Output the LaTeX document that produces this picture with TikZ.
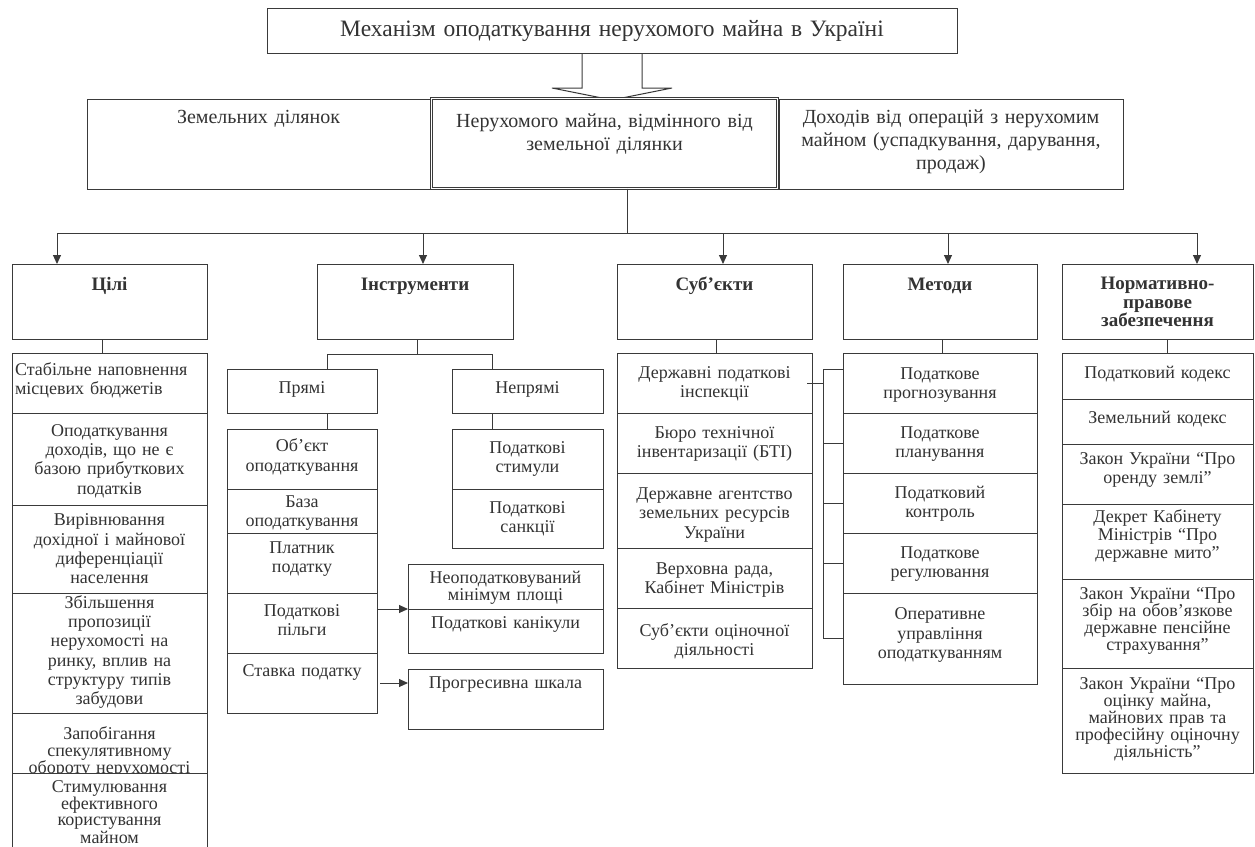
\documentclass[tikz,border=0pt]{standalone}
\usepackage{fontspec}
\setmainfont{Liberation Serif}
\usetikzlibrary{calc,arrows.meta}
\definecolor{ink}{HTML}{333333}
\definecolor{edge}{HTML}{3A3A3A}
\tikzset{
  box/.style={draw=edge, line width=1pt, fill=white, inner sep=0pt, outer sep=0pt},
  txt/.style={inner sep=0pt, align=center, text=ink, font=\fontsize{18}{19.3}\selectfont},
  tight/.style={txt, font=\fontsize{18}{17}\selectfont},
  tighter/.style={txt, font=\fontsize{18}{16}\selectfont},
  hdr/.style={txt, font=\fontsize{19}{18.5}\selectfont\bfseries},
  big/.style={txt, font=\fontsize{20}{23}\selectfont},
  ttl/.style={txt, font=\fontsize{23.5}{26}\selectfont},
  conn/.style={draw=edge, line width=1pt},
  arr/.style={conn, -{Triangle[length=9pt,width=8pt]}},
}
% #1 text style, #2 name, #3 x1, #4 y1, #5 x2, #6 y2, #7 text centre y, #8 text
\newcommand\mkcell[8][txt]{%
  \pgfmathsetmacro\cw{#5-#3}%
  \pgfmathsetmacro\ch{#6-#4}%
  \pgfmathsetmacro\tw{#5-#3-6}%
  \pgfmathsetmacro\cx{(#3+#5)/2}%
  \node[box, anchor=north west, minimum width=\cw pt, minimum height=\ch pt] (#2) at (#3,#4) {};
  \node[#1, text width=\tw pt] (#2t) at (\cx,#7) {#8};
}
\begin{document}
\begin{tikzpicture}[x=1pt,y=-1pt]
\useasboundingbox (0,0) rectangle (1255,846);
\clip (0,0) rectangle (1255,846);

% title
\mkcell[ttl]{T}{267}{8}{957}{53}{31}{Механізм оподаткування нерухомого майна в Україні}
% hollow arrow
\draw[conn] ($(T.south)+(-30,0)$) -- ++(0,35) -- ++(-30,0) -- ++(60,12) -- ++(60,-12) -- ++(-30,0) -- ++(0,-35);

% second row
\mkcell[big]{L}{87}{99}{430}{189}{119}{Земельних ділянок}
\mkcell[big]{R}{779}{99}{1123}{189}{142}{Доходів від операцій з нерухомим\\майном (успадкування, дарування,\\продаж)}
\node[box, double=white, double distance=1.6pt, line width=0.8pt, anchor=north west,
      minimum width=346pt, minimum height=90pt] (M) at (431.5,98.5) {};
\node[big, text width=330pt] (Mt) at (604.5,134) {Нерухомого майна, відмінного від\\земельної ділянки};

% branch
\coordinate (hub) at (627,233);
\coordinate (bG) at (57,233);
\coordinate (bI) at (423,233);
\coordinate (bS) at (723,233);
\coordinate (bQ) at (948,233);
\coordinate (bN) at (1197,233);
\draw[conn] (hub |- M.south) -- (hub);
\draw[conn] (bG) -- (bN);

% column headers
\mkcell[hdr]{G}{12}{264}{207}{339}{286}{Цілі}
\mkcell[hdr]{I}{317}{264}{513}{339}{286}{Інструменти}
\mkcell[hdr]{S}{617}{264}{812}{339}{286}{Суб’єкти}
\mkcell[hdr]{Q}{843}{264}{1037}{339}{286}{Методи}
\mkcell[hdr]{Nh}{1062}{264}{1253}{339}{302}{Нормативно-\\правове\\забезпечення}
\foreach \b/\h in {bG/G,bI/I,bS/S,bQ/Q,bN/Nh} \draw[arr] (\b) -- (\b |- \h.north);

% goals
\mkcell[txt,align=left]{G1}{12}{353}{207}{413}{380}{Стабільне наповнення\\ місцевих бюджетів}
\mkcell{G2}{12}{413}{207}{505}{461}{Оподаткування\\доходів, що не є\\базою прибуткових\\податків}
\mkcell{G3}{12}{505}{207}{593}{549}{Вирівнювання\\дохідної і майнової\\диференціації\\населення}
\mkcell{G4}{12}{593}{207}{713}{652}{Збільшення\\пропозиції\\нерухомості на\\ринку, вплив на\\структуру типів\\забудови}
\mkcell[tight]{G5}{12}{713}{207}{773}{752}{Запобігання\\спекулятивному\\обороту нерухомості}
\mkcell[tighter]{G6}{12}{773}{207}{852}{812}{Стимулювання\\ефективного\\користування\\майном}
\coordinate (gx) at (102,0);
\draw[conn] (gx |- G.south) -- (gx |- G1.north);

% instruments
\mkcell{Pr}{227}{369}{377}{413}{389}{Прямі}
\mkcell{Np}{452}{369}{603}{413}{389}{Непрямі}
\coordinate (ix) at (417,354);
\coordinate (pL) at (327,354);
\coordinate (pR) at (492,354);
\draw[conn] (ix |- I.south) -- (ix);
\draw[conn] (pL) -- (pR);
\draw[conn] (pL) -- (pL |- Pr.north);
\draw[conn] (pR) -- (pR |- Np.north);

\mkcell{P1}{227}{429}{377}{489}{457}{Об’єкт\\оподаткування}
\mkcell{P2}{227}{489}{377}{533}{513}{База\\оподаткування}
\mkcell{P3}{227}{533}{377}{593}{559}{Платник\\податку}
\mkcell{P4}{227}{593}{377}{653}{620}{Податкові\\пільги}
\mkcell{P5}{227}{653}{377}{713}{672}{Ставка податку}
\mkcell{U1}{452}{429}{603}{489}{459}{Податкові\\стимули}
\mkcell{U2}{452}{489}{603}{548}{519}{Податкові\\санкції}
\draw[conn] (pL |- Pr.south) -- (pL |- P1.north);
\draw[conn] (pR |- Np.south) -- (pR |- U1.north);

\mkcell[tight]{L1}{408}{564}{603}{609}{588}{Неоподатковуваний\\мінімум площі}
\mkcell{L2}{408}{609}{603}{653}{624}{Податкові канікули}
\mkcell{Ps}{408}{669}{603}{729}{685}{Прогресивна шкала}
\draw[arr] (L1.south west -| P4.east) -- (L1.south west);
\draw[arr, shorten <=3pt] (P5.east) -- (P5.east -| Ps.west);

% subjects
\mkcell{S1}{617}{353}{812}{413}{384}{Державні податкові\\інспекції}
\mkcell{S2}{617}{413}{812}{473}{444}{Бюро технічної\\інвентаризації (БТІ)}
\mkcell{S3}{617}{473}{812}{548}{515}{Державне агентство\\земельних ресурсів\\України}
\mkcell{S4}{617}{548}{812}{608}{580}{Верховна рада,\\Кабінет Міністрів}
\mkcell{S5}{617}{608}{812}{668}{641}{Суб’єкти оціночної\\діяльності}
\coordinate (sx) at (716,0);
\draw[conn] (sx |- S.south) -- (sx |- S1.north);

% methods
\mkcell{Q1}{843}{353}{1037}{413}{385}{Податкове\\прогнозування}
\mkcell{Q2}{843}{413}{1037}{473}{444}{Податкове\\планування}
\mkcell{Q3}{843}{473}{1037}{533}{504}{Податковий\\контроль}
\mkcell{Q4}{843}{533}{1037}{593}{564}{Податкове\\регулювання}
\mkcell{Q5}{843}{593}{1037}{684}{635}{Оперативне\\управління\\оподаткуванням}
\coordinate (qx) at (942,0);
\draw[conn] (qx |- Q.south) -- (qx |- Q1.north);

% bracket subjects -> methods
\coordinate (bk) at (823,369);
\draw[conn] ($(S1.east)+(-5,0)$) -- (S1.east -| bk);
\draw[conn] (bk) -- (bk |- Q5.west);
\draw[conn] (bk) -- (bk -| Q1.west);
\foreach \n in {2,...,5} \draw[conn] (bk |- Q\n.west) -- (Q\n.west);

% normative
\mkcell{Z1}{1062}{353}{1253}{399}{374}{Податковий кодекс}
\mkcell{Z2}{1062}{399}{1253}{444}{419}{Земельний кодекс}
\mkcell{Z3}{1062}{444}{1253}{504}{470}{Закон України “Про\\оренду землі”}
\mkcell[txt,font=\fontsize{18}{18}\selectfont]{Z4}{1062}{504}{1253}{579}{536}{Декрет Кабінету\\Міністрів “Про\\державне мито”}
\mkcell[tight]{Z5}{1062}{579}{1253}{668}{621}{Закон України “Про\\збір на обов’язкове\\державне пенсійне\\страхування”}
\mkcell[tight]{Z6}{1062}{668}{1253}{773}{719}{Закон України “Про\\оцінку майна,\\майнових прав та\\професійну оціночну\\діяльність”}
\coordinate (zx) at (1167,0);
\draw[conn] (zx |- Nh.south) -- (zx |- Z1.north);
\end{tikzpicture}
\end{document}
